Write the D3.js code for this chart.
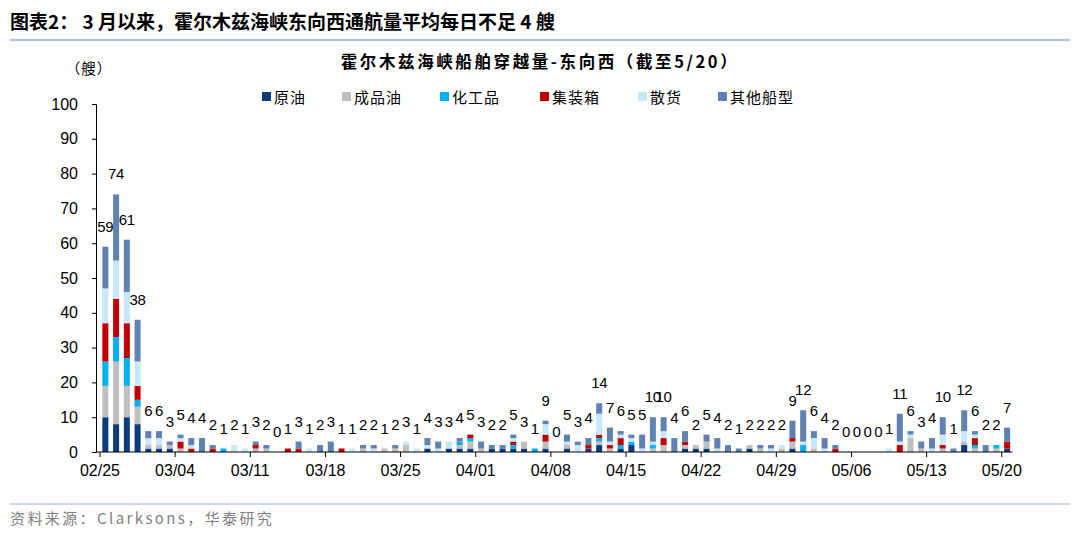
<!DOCTYPE html>
<html><head><meta charset="utf-8">
<script src="https://cdn.jsdelivr.net/npm/d3@7"></script>
<style>
html,body{margin:0;padding:0;background:#fff;}
svg{display:block;}
</style></head>
<body>
<svg id="c" width="1080" height="538"></svg>
<script>
const dates = ["02/25","02/26","02/27","02/28","03/01","03/02","03/03","03/04","03/05","03/06","03/07","03/08","03/09","03/10",
"03/11","03/12","03/13","03/14","03/15","03/16","03/17","03/18","03/19","03/20","03/21","03/22","03/23","03/24",
"03/25","03/26","03/27","03/28","03/29","03/30","03/31","04/01","04/02","04/03","04/04","04/05","04/06","04/07",
"04/08","04/09","04/10","04/11","04/12","04/13","04/14","04/15","04/16","04/17","04/18","04/19","04/20","04/21",
"04/22","04/23","04/24","04/25","04/26","04/27","04/28","04/29","04/30","05/01","05/02","05/03","05/04","05/05",
"05/06","05/07","05/08","05/09","05/10","05/11","05/12","05/13","05/14","05/15","05/16","05/17","05/18","05/19","05/20"];
const tickLabels = ["02/25","03/04","03/11","03/18","03/25","04/01","04/08","04/15","04/22","04/29","05/06","05/13","05/20"];
const seriesNames = ["原油","成品油","化工品","集装箱","散货","其他船型"];
const crude     = [10,8,10,8,1,1,1,0,0,0,0,0,0,0,0,0,0,0,0,0,0,0,0,0,0,0,0,0,0,0,1,0,1,1,1,0,1,1,1,1,0,1,0,1,0,1,2,0,1,2,0,0,0,0,1,1,1,0,0,0,1,0,0,0,1,0,0,0,0,0,0,0,0,0,0,0,0,0,0,0,2,0,0,0,1];
const product   = [9,18,9,5,1,1,1,1,0,0,0,0,0,0,1,1,0,0,0,0,0,0,0,0,1,0,1,1,2,0,0,0,0,1,2,1,0,0,0,2,0,2,0,1,0,0,1,1,0,0,0,1,2,0,1,1,2,0,0,0,1,1,0,1,2,0,1,0,0,0,0,0,0,0,0,4,1,0,1,0,1,1,0,1,0];
const chemical  = [7,7,8,2,0,0,0,0,0,0,0,1,0,0,0,0,0,0,0,0,0,0,0,0,0,0,0,0,0,0,0,0,0,1,1,0,0,0,1,0,1,0,0,0,0,0,1,0,1,1,0,1,0,0,0,0,0,0,0,0,0,0,0,0,0,2,0,0,0,0,0,0,0,0,0,0,0,0,0,0,0,1,0,1,0];
const container = [11,11,10,4,0,0,0,2,1,0,1,0,0,0,1,0,0,1,1,0,0,0,1,0,0,0,0,0,0,0,0,0,0,0,1,0,0,0,1,0,0,2,0,0,0,1,1,1,2,0,0,0,2,0,1,0,0,0,0,0,0,0,0,0,1,0,0,0,1,0,0,0,0,0,2,0,0,0,1,0,0,2,0,0,2];
const bulk      = [10,11,9,7,2,2,0,1,1,0,0,0,2,1,0,0,0,0,0,1,0,0,0,1,0,1,0,0,1,1,1,1,2,0,0,0,0,0,1,0,0,3,0,1,2,0,6,1,1,1,1,1,2,0,0,0,0,1,0,0,0,0,1,1,0,1,3,1,0,0,0,0,0,1,1,1,0,1,3,0,3,1,0,0,0];
const other     = [12,19,15,12,2,2,1,1,2,4,1,0,0,0,1,1,0,0,2,0,2,3,0,0,1,1,0,1,0,0,2,2,0,1,0,2,1,1,1,0,0,1,0,2,1,2,3,4,1,1,4,7,4,4,3,0,2,3,2,1,0,1,1,0,5,9,2,3,1,0,0,0,0,0,8,1,2,3,5,1,6,1,2,0,4];
const colors = ["#0C3C7C","#BFBFBF","#00B0F0","#C00000","#C6E8F8","#5F82B2"];

const keys = ["crude","product","chemical","container","bulk","other"];
const arrs = [crude,product,chemical,container,bulk,other];
const rows = dates.map((d,i)=>{const r={date:d}; keys.forEach((k,j)=>r[k]=arrs[j][i]); return r;});
const stack = d3.stack().keys(keys)(rows);

const svg = d3.select("#c");
const CJK = "'Noto Sans CJK SC', sans-serif";
const LAT = "'Liberation Sans', Arial, sans-serif";

// header
svg.append("text").attr("x",10).attr("y",29).attr("font-family",CJK).attr("font-weight","bold").attr("font-size",19).attr("fill","#000")
  .text("图表2：  3 月以来，霍尔木兹海峡东向西通航量平均每日不足 4 艘");
svg.append("line").attr("x1",10).attr("x2",1070).attr("y1",40).attr("y2",40).attr("stroke","#9BB1CF").attr("stroke-width",1.5);
svg.append("text").attr("x",540).attr("y",68).attr("text-anchor","middle").attr("font-family",CJK).attr("font-weight","bold").attr("font-size",16.5).attr("letter-spacing",2.6).attr("fill","#000")
  .text("霍尔木兹海峡船舶穿越量-东向西（截至5/20）");
svg.append("text").attr("x",89).attr("y",74).attr("text-anchor","middle").attr("font-family",CJK).attr("font-size",14.5).attr("letter-spacing",1).attr("fill","#000").text("（艘）");

// legend
const legX = [262,342,440,540,638,718];
seriesNames.forEach((n,i)=>{
  const g = svg.append("g").attr("transform",`translate(${legX[i]},97)`);
  g.append("rect").attr("x",0).attr("y",-5).attr("width",9).attr("height",9).attr("fill",colors[i]);
  g.append("text").attr("x",12).attr("y",5.5).attr("font-family",CJK).attr("font-size",15).attr("letter-spacing",1).attr("fill","#000").text(n);
});

// scales
const x = d3.scaleBand().domain(dates).range([100,1012.5]).paddingInner(0.44).paddingOuter(0.22);
const y = d3.scaleLinear().domain([0,100]).range([452,104]);

// y axis
const yAxis = d3.axisLeft(y).tickValues(d3.range(0,101,10)).tickSize(4).tickPadding(14);
const yg = svg.append("g").attr("transform","translate(96,0)").call(yAxis);
yg.select(".domain").attr("stroke","#000");
yg.selectAll(".tick line").attr("stroke","#000");
yg.selectAll("text").attr("font-family",LAT).attr("font-size",16).attr("fill","#000");

// bars
svg.append("g").selectAll("g").data(stack).join("g").attr("fill",(d,i)=>colors[i])
  .selectAll("rect").data(d=>d).join("rect")
  .attr("x",d=>x(d.data.date)).attr("width",x.bandwidth())
  .attr("y",d=>y(d[1])).attr("height",d=>y(d[0])-y(d[1]));

// labels
const totals = rows.map(r=>keys.reduce((s,k)=>s+r[k],0));
svg.append("g").selectAll("text").data(rows).join("text")
  .attr("x",(d)=>x(d.date)+x.bandwidth()/2)
  .attr("y",(d,i)=>y(totals[i])-15)
  .attr("text-anchor","middle").attr("font-family",LAT).attr("font-size",15).attr("letter-spacing",-0.3).attr("fill","#000")
  .text((d,i)=>totals[i]);

// x axis
svg.append("line").attr("x1",96).attr("x2",1012.5).attr("y1",452).attr("y2",452).attr("stroke","#000");
const tickIdx = tickLabels.map(t=>dates.indexOf(t));
const xt = svg.append("g");
tickIdx.forEach((ti,k)=>{
  const px = x(dates[ti]) - (x.step()*x.paddingInner())/2;
  xt.append("line").attr("x1",px).attr("x2",px).attr("y1",452).attr("y2",457).attr("stroke","#000");
  xt.append("text").attr("x",px).attr("y",476).attr("text-anchor","middle").attr("font-family",LAT).attr("font-size",16).attr("fill","#000").text(tickLabels[k]);
});

// footer
svg.append("line").attr("x1",10).attr("x2",1070).attr("y1",504).attr("y2",504).attr("stroke","#9BB1CF").attr("stroke-width",1.2);
svg.append("text").attr("x",10).attr("y",524).attr("font-family",CJK).attr("font-size",15).attr("letter-spacing",2.4).attr("fill","#7F7F7F").text("资料来源：Clarksons，华泰研究");
</script>
</body></html>
